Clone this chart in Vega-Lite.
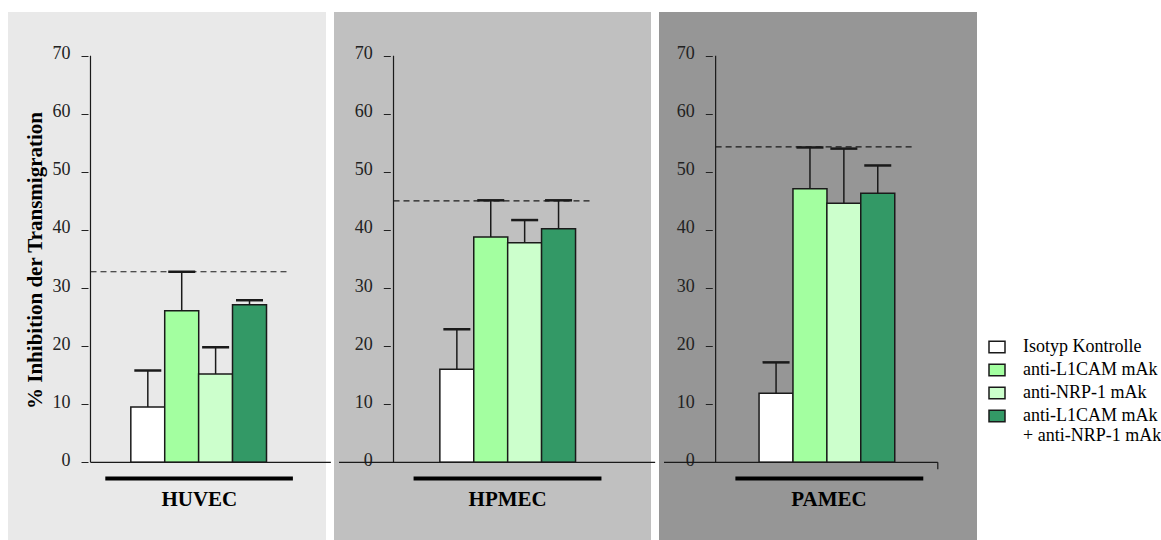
{
  "$schema": "https://vega.github.io/schema/vega-lite/v6.json",
  "background": "white",
  "padding": {"left": 8, "top": 12, "right": 0, "bottom": 0},
  "autosize": {"type": "pad"},
  "spacing": 8,
  "bounds": "flush",
  "config": {
    "font": "Liberation Serif",
    "axisX": {"disable": true},
    "axisY": {"domain": false, "grid": false, "tickSize": 7, "tickColor": "#222", "tickWidth": 1, "labelFont": "Liberation Serif", "labelFontSize": 18, "labelColor": "#222", "labelPadding": 11, "labelOffset": -2, "labelFlush": false, "labelOverlap": false, "titleFont": "Liberation Serif", "titleFontSize": 21, "titleFontWeight": "bold", "titleColor": "#000"}
  },
  "datasets": {
    "bars": [
      {"cell": "HUVEC", "treatment": "Isotyp Kontrolle", "k": 1, "mean": 9.5, "upper": 15.8},
      {"cell": "HUVEC", "treatment": "anti-L1CAM mAk", "k": 2, "mean": 26.1, "upper": 32.8},
      {"cell": "HUVEC", "treatment": "anti-NRP-1 mAk", "k": 3, "mean": 15.2, "upper": 19.8},
      {"cell": "HUVEC", "treatment": "anti-L1CAM mAk + anti-NRP-1 mAk", "k": 4, "mean": 27.1, "upper": 27.9},
      {"cell": "HPMEC", "treatment": "Isotyp Kontrolle", "k": 1, "mean": 16.0, "upper": 22.9},
      {"cell": "HPMEC", "treatment": "anti-L1CAM mAk", "k": 2, "mean": 38.8, "upper": 45.1},
      {"cell": "HPMEC", "treatment": "anti-NRP-1 mAk", "k": 3, "mean": 37.8, "upper": 41.7},
      {"cell": "HPMEC", "treatment": "anti-L1CAM mAk + anti-NRP-1 mAk", "k": 4, "mean": 40.2, "upper": 45.1},
      {"cell": "PAMEC", "treatment": "Isotyp Kontrolle", "k": 1, "mean": 11.9, "upper": 17.2},
      {"cell": "PAMEC", "treatment": "anti-L1CAM mAk", "k": 2, "mean": 47.1, "upper": 54.2},
      {"cell": "PAMEC", "treatment": "anti-NRP-1 mAk", "k": 3, "mean": 44.6, "upper": 54.0},
      {"cell": "PAMEC", "treatment": "anti-L1CAM mAk + anti-NRP-1 mAk", "k": 4, "mean": 46.3, "upper": 51.1}
    ],
    "refs": [
      {"cell": "HUVEC", "ref": 32.8},
      {"cell": "HPMEC", "ref": 45.0},
      {"cell": "PAMEC", "ref": 54.3}
    ]
  },
  "hconcat": [
    {
      "width": 318, "height": 528,
      "view": {"fill": "#e9e9e9", "stroke": null},
      "data": {"name": "bars"},
      "transform": [{"filter": "datum.cell === 'HUVEC'"}],
      "layer": [
        {"mark": {"type": "bar", "size": 34, "stroke": "#1a1a1a", "strokeWidth": 1.5},
         "encoding": {"x": {"field": "k", "type": "quantitative", "scale": {"domain": [-2.977, 6.109], "nice": false, "zero": false}},
           "y": {"field": "mean", "type": "quantitative", "scale": {"domain": [-13.38, 77.52], "nice": false, "zero": false},
                 "axis": {"values": [0, 10, 20, 30, 40, 50, 60, 70], "offset": -80, "labelFont": "Liberation Serif", "labelFontSize": 18, "labelColor": "#222", "title": "% Inhibition der Transmigration", "titleX": -47, "titleY": 248, "titleAngle": 270, "titleAlign": "center", "titleBaseline": "alphabetic", "titleFont": "Liberation Serif", "titleFontSize": 21, "titleFontWeight": "bold"}},
           "y2": {"datum": 0},
           "fill": {"field": "treatment", "type": "nominal",
             "scale": {"domain": ["Isotyp Kontrolle", "anti-L1CAM mAk", "anti-NRP-1 mAk", "anti-L1CAM mAk + anti-NRP-1 mAk"], "range": ["#ffffff", "#a3ffa0", "#ccffcc", "#339966"]},
             "legend": {"title": null, "orient": "none", "legendX": 980, "legendY": 326, "symbolType": "M-1,-0.72H1V0.72H-1Z", "symbolSize": 256, "symbolStrokeColor": "#1a1a1a", "symbolStrokeWidth": 1.5, "labelFont": "Liberation Serif", "labelFontSize": 18, "labelColor": "#000", "labelOffset": 17, "rowPadding": 5, "labelLimit": 300,
               "labelExpr": "datum.label === 'anti-L1CAM mAk + anti-NRP-1 mAk' ? ['anti-L1CAM mAk', '+ anti-NRP-1 mAk'] : datum.label"}}}},
        {"mark": {"type": "rule", "color": "#1a1a1a", "strokeWidth": 1.5},
         "encoding": {"x": {"field": "k", "type": "quantitative"}, "y": {"field": "mean", "type": "quantitative"}, "y2": {"field": "upper"}}},
        {"mark": {"type": "tick", "orient": "horizontal", "color": "#1a1a1a", "size": 27, "thickness": 2.5, "opacity": 1},
         "encoding": {"x": {"field": "k", "type": "quantitative"}, "y": {"field": "upper", "type": "quantitative"}}},
        {"data": {"name": "refs"}, "transform": [{"filter": "datum.cell === 'HUVEC'"}],
         "layer": [
           {"mark": {"type": "rule", "color": "#1a1a1a", "strokeWidth": 1.2},
            "encoding": {"x": {"datum": -0.691}, "y": {"datum": 0}, "y2": {"datum": 70}}},
           {"mark": {"type": "rule", "color": "#1a1a1a", "strokeWidth": 1.2},
            "encoding": {"x": {"datum": -0.691}, "x2": {"datum": 6.4}, "y": {"datum": 0}}},
           {"mark": {"type": "rule", "color": "#1a1a1a", "strokeWidth": 1.2, "strokeDash": [6, 4]},
            "encoding": {"x": {"datum": -0.691}, "x2": {"datum": 5.146}, "y": {"field": "ref", "type": "quantitative"}}},
           {"mark": {"type": "rule", "color": "#000", "strokeWidth": 4},
            "encoding": {"x": {"datum": -0.254}, "x2": {"datum": 5.28}, "y": {"datum": -2.81}}},
           {"mark": {"type": "text", "font": "Liberation Serif", "fontSize": 21, "fontWeight": "bold", "baseline": "alphabetic", "align": "center", "color": "#000"},
            "encoding": {"x": {"datum": 2.52}, "y": {"datum": -7.58}, "text": {"field": "cell"}}}
         ]}
      ]
    },
    {
      "width": 317, "height": 528,
      "view": {"fill": "#c0c0c0", "stroke": null},
      "data": {"name": "bars"},
      "transform": [{"filter": "datum.cell === 'HPMEC'"}],
      "layer": [
        {"mark": {"type": "bar", "size": 34, "stroke": "#1a1a1a", "strokeWidth": 1.5},
         "encoding": {"x": {"field": "k", "type": "quantitative", "scale": {"domain": [-2.477, 6.58], "nice": false, "zero": false}},
           "y": {"field": "mean", "type": "quantitative", "scale": {"domain": [-13.38, 77.52], "nice": false, "zero": false},
                 "axis": {"values": [0, 10, 20, 30, 40, 50, 60, 70], "offset": -56.3, "labelFont": "Liberation Serif", "labelFontSize": 18, "labelColor": "#222", "title": null}},
           "y2": {"datum": 0},
           "fill": {"field": "treatment", "type": "nominal",
             "scale": {"domain": ["Isotyp Kontrolle", "anti-L1CAM mAk", "anti-NRP-1 mAk", "anti-L1CAM mAk + anti-NRP-1 mAk"], "range": ["#ffffff", "#a3ffa0", "#ccffcc", "#339966"]}}}},
        {"mark": {"type": "rule", "color": "#1a1a1a", "strokeWidth": 1.5},
         "encoding": {"x": {"field": "k", "type": "quantitative"}, "y": {"field": "mean", "type": "quantitative"}, "y2": {"field": "upper"}}},
        {"mark": {"type": "tick", "orient": "horizontal", "color": "#1a1a1a", "size": 27, "thickness": 2.5, "opacity": 1},
         "encoding": {"x": {"field": "k", "type": "quantitative"}, "y": {"field": "upper", "type": "quantitative"}}},
        {"data": {"name": "refs"}, "transform": [{"filter": "datum.cell === 'HPMEC'"}],
         "layer": [
           {"mark": {"type": "rule", "color": "#1a1a1a", "strokeWidth": 1.2},
            "encoding": {"x": {"datum": -0.869}, "y": {"datum": 0}, "y2": {"datum": 70}}},
           {"mark": {"type": "rule", "color": "#1a1a1a", "strokeWidth": 1.2},
            "encoding": {"x": {"datum": -2.477}, "x2": {"datum": 6.85}, "y": {"datum": 0}}},
           {"mark": {"type": "rule", "color": "#1a1a1a", "strokeWidth": 1.2, "strokeDash": [6, 4]},
            "encoding": {"x": {"datum": -0.869}, "x2": {"datum": 4.931}, "y": {"field": "ref", "type": "quantitative"}}},
           {"mark": {"type": "rule", "color": "#000", "strokeWidth": 4},
            "encoding": {"x": {"datum": -0.277}, "x2": {"datum": 5.266}, "y": {"datum": -2.81}}},
           {"mark": {"type": "text", "font": "Liberation Serif", "fontSize": 21, "fontWeight": "bold", "baseline": "alphabetic", "align": "center", "color": "#000"},
            "encoding": {"x": {"datum": 2.5}, "y": {"datum": -7.58}, "text": {"field": "cell"}}}
         ]}
      ]
    },
    {
      "width": 318, "height": 528,
      "view": {"fill": "#969696", "stroke": null},
      "data": {"name": "bars"},
      "transform": [{"filter": "datum.cell === 'PAMEC'"}],
      "layer": [
        {"mark": {"type": "bar", "size": 34, "stroke": "#1a1a1a", "strokeWidth": 1.5},
         "encoding": {"x": {"field": "k", "type": "quantitative", "scale": {"domain": [-2.306, 6.78], "nice": false, "zero": false}},
           "y": {"field": "mean", "type": "quantitative", "scale": {"domain": [-13.38, 77.52], "nice": false, "zero": false},
                 "axis": {"values": [0, 10, 20, 30, 40, 50, 60, 70], "offset": -53.3, "labelFont": "Liberation Serif", "labelFontSize": 18, "labelColor": "#222", "title": null}},
           "y2": {"datum": 0},
           "fill": {"field": "treatment", "type": "nominal",
             "scale": {"domain": ["Isotyp Kontrolle", "anti-L1CAM mAk", "anti-NRP-1 mAk", "anti-L1CAM mAk + anti-NRP-1 mAk"], "range": ["#ffffff", "#a3ffa0", "#ccffcc", "#339966"]}}}},
        {"mark": {"type": "rule", "color": "#1a1a1a", "strokeWidth": 1.5},
         "encoding": {"x": {"field": "k", "type": "quantitative"}, "y": {"field": "mean", "type": "quantitative"}, "y2": {"field": "upper"}}},
        {"mark": {"type": "tick", "orient": "horizontal", "color": "#1a1a1a", "size": 27, "thickness": 2.5, "opacity": 1},
         "encoding": {"x": {"field": "k", "type": "quantitative"}, "y": {"field": "upper", "type": "quantitative"}}},
        {"data": {"name": "refs"}, "transform": [{"filter": "datum.cell === 'PAMEC'"}],
         "layer": [
           {"mark": {"type": "rule", "color": "#1a1a1a", "strokeWidth": 1.2},
            "encoding": {"x": {"datum": -0.783}, "y": {"datum": 0}, "y2": {"datum": 70}}},
           {"mark": {"type": "rule", "color": "#1a1a1a", "strokeWidth": 1.2},
            "encoding": {"x": {"datum": -2.306}, "x2": {"datum": 5.771}, "y": {"datum": 0}}},
           {"mark": {"type": "rule", "color": "#1a1a1a", "strokeWidth": 1.2},
            "encoding": {"x": {"datum": 5.771}, "y": {"datum": 0}, "y2": {"datum": -1.2}}},
           {"mark": {"type": "rule", "color": "#1a1a1a", "strokeWidth": 1.2, "strokeDash": [6, 4]},
            "encoding": {"x": {"datum": -0.783}, "x2": {"datum": 5.057}, "y": {"field": "ref", "type": "quantitative"}}},
           {"mark": {"type": "rule", "color": "#000", "strokeWidth": 4},
            "encoding": {"x": {"datum": -0.2}, "x2": {"datum": 5.343}, "y": {"datum": -2.81}}},
           {"mark": {"type": "text", "font": "Liberation Serif", "fontSize": 21, "fontWeight": "bold", "baseline": "alphabetic", "align": "center", "color": "#000"},
            "encoding": {"x": {"datum": 2.56}, "y": {"datum": -7.58}, "text": {"field": "cell"}}}
         ]}
      ]
    }
  ]
}
